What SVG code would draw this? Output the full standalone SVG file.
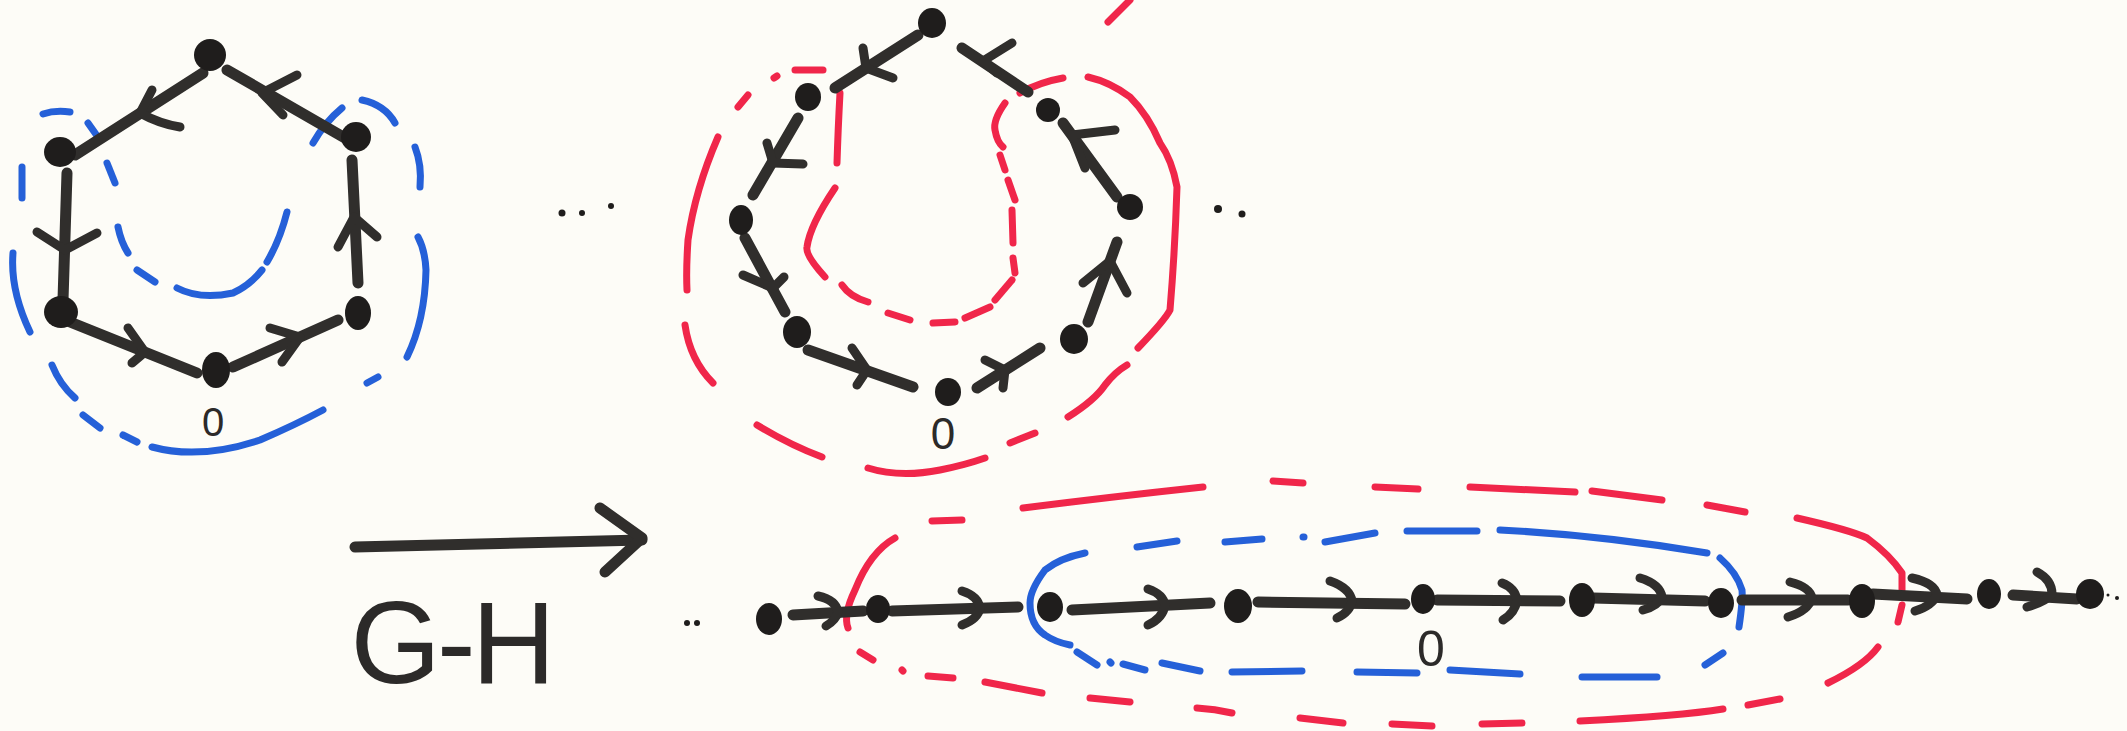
<svg xmlns="http://www.w3.org/2000/svg" width="2127" height="731" viewBox="0 0 2127 731">
<style>
.ink{stroke:#302e2c;stroke-width:11;stroke-linecap:round;stroke-linejoin:round;fill:none}
.hd{stroke:#302e2c;stroke-width:9;stroke-linecap:round;stroke-linejoin:round;fill:none}
.nd{fill:#1f1d1c}
.bl{stroke:#2560d8;stroke-width:7;stroke-linecap:round;stroke-linejoin:round;fill:none}
.rd{stroke:#f0264a;stroke-width:7;stroke-linecap:round;stroke-linejoin:round;fill:none}
.lbl{font-family:"Liberation Sans",Arial,sans-serif;fill:#2c2a29;text-anchor:middle}
.dt{fill:#1f1d1c}
</style>
<rect width="2127" height="731" fill="#fdfcf7"/>

<!-- sets (blue / red regions) -->
<g id="hex-blue-set">
<path class="bl" d="M43,114 Q55,110 70,112"/>
<path class="bl" d="M88,123 L100,140"/>
<path class="bl" d="M107,163 L115,183"/>
<path class="bl" d="M118,227 Q121,242 128,253"/>
<path class="bl" d="M137,270 L155,282"/>
<path class="bl" d="M177,288 Q200,300 233,293 Q250,285 262,270"/>
<path class="bl" d="M267,262 Q280,240 287,212"/>
<path class="bl" d="M22,167 L22,198"/>
<path class="bl" d="M13,253 Q10,290 30,332"/>
<path class="bl" d="M52,365 Q60,385 75,398"/>
<path class="bl" d="M83,415 L100,428"/>
<path class="bl" d="M123,435 L137,442"/>
<path class="bl" d="M152,447 Q200,460 260,440 Q295,425 323,410"/>
<path class="bl" d="M367,383 L378,377"/>
<path class="bl" d="M407,357 Q425,320 426,270 Q425,250 418,237"/>
<path class="bl" d="M415,147 Q422,165 420,187"/>
<path class="bl" d="M362,100 Q385,105 395,123"/>
<path class="bl" d="M313,143 Q325,122 342,108"/>
</g>

<g id="mid-red-set">
<path class="rd" d="M738,107 L748,95"/>
<path class="rd" d="M774,78 L777,76"/>
<path class="rd" d="M795,70 L823,70"/>
<path class="rd" d="M718,137 Q695,190 688,240 Q686,270 687,290"/>
<path class="rd" d="M685,325 Q690,360 713,383"/>
<path class="rd" d="M757,425 Q790,445 822,457"/>
<path class="rd" d="M868,468 Q900,478 940,470 Q965,465 985,458"/>
<path class="rd" d="M1010,443 L1035,433"/>
<path class="rd" d="M1068,417 Q1095,400 1105,385 Q1115,372 1127,365"/>
<path class="rd" d="M1138,348 Q1165,320 1170,310 Q1175,250 1177,187 Q1172,160 1160,143 Q1148,115 1130,97 Q1110,82 1088,77"/>
<path class="rd" d="M1063,78 Q1040,82 1020,93"/>
<path class="rd" d="M1005,103 Q993,120 995,130 Q997,142 1003,147"/>
<path class="rd" d="M1000,155 L1005,170"/>
<path class="rd" d="M1008,180 L1015,200"/>
<path class="rd" d="M1012,210 L1013,243"/>
<path class="rd" d="M1013,258 L1015,273"/>
<path class="rd" d="M1012,280 L995,300"/>
<path class="rd" d="M990,307 L965,318"/>
<path class="rd" d="M955,322 L933,323"/>
<path class="rd" d="M910,320 L888,313"/>
<path class="rd" d="M868,302 Q850,297 842,285"/>
<path class="rd" d="M825,277 Q805,255 807,247 Q810,225 835,188"/>
<path class="rd" d="M837,163 Q838,130 840,93"/>
<path class="rd" d="M1108,22 L1130,0"/>
</g>

<g id="line-red-set">
<path class="rd" d="M895,538 Q870,552 855,590 Q843,615 848,628"/>
<path class="rd" d="M932,521 L962,520"/>
<path class="rd" d="M1023,508 Q1110,497 1203,487"/>
<path class="rd" d="M1273,481 L1303,483"/>
<path class="rd" d="M1375,487 L1418,489"/>
<path class="rd" d="M1470,487 L1575,492"/>
<path class="rd" d="M1592,491 L1662,500"/>
<path class="rd" d="M1707,505 L1745,512"/>
<path class="rd" d="M1797,518 Q1850,530 1867,538 Q1890,555 1902,573 L1902,590"/>
<path class="rd" d="M1902,605 L1898,622"/>
<path class="rd" d="M1878,647 Q1865,665 1828,683"/>
<path class="rd" d="M1780,699 L1748,705"/>
<path class="rd" d="M1723,709 Q1680,716 1580,721"/>
<path class="rd" d="M1522,723 L1482,724"/>
<path class="rd" d="M1432,726 L1392,724"/>
<path class="rd" d="M1343,723 L1300,718"/>
<path class="rd" d="M1232,713 Q1215,709 1197,708"/>
<path class="rd" d="M1130,702 L1090,698"/>
<path class="rd" d="M1042,693 L985,682"/>
<path class="rd" d="M953,678 L928,676"/>
<path class="rd" d="M902,670 L903,671"/>
<path class="rd" d="M873,660 L860,652"/>
</g>

<g id="line-blue-set">
<path class="bl" d="M1085,553 Q1060,558 1045,570 Q1030,590 1030,603 Q1030,625 1045,635 Q1055,642 1070,645"/>
<path class="bl" d="M1077,652 L1097,665"/>
<path class="bl" d="M1110,662 L1111,663"/>
<path class="bl" d="M1123,664 L1145,670"/>
<path class="bl" d="M1162,663 L1200,671"/>
<path class="bl" d="M1232,672 L1302,671"/>
<path class="bl" d="M1357,672 L1417,673"/>
<path class="bl" d="M1450,670 L1520,674"/>
<path class="bl" d="M1582,677 L1657,677"/>
<path class="bl" d="M1705,665 L1723,653"/>
<path class="bl" d="M1739,627 Q1743,600 1742,590 Q1737,573 1720,558"/>
<path class="bl" d="M1500,530 Q1600,535 1707,553"/>
<path class="bl" d="M1407,531 L1477,531"/>
<path class="bl" d="M1325,542 L1375,533"/>
<path class="bl" d="M1303,537 L1304,537"/>
<path class="bl" d="M1225,542 L1262,539"/>
<path class="bl" d="M1137,547 L1177,541"/>
</g>

<!-- connectors -->
<g id="connectors">
<!-- hexagon -->
<path class="ink" d="M203,73 L75,155"/><path class="hd" d="M152,90 L140,113 Q160,124 180,127"/>
<path class="ink" d="M345,138 L227,70"/><path class="hd" d="M297,75 L262,93 L283,115"/>
<path class="ink" d="M67,173 L63,300"/><path class="hd" d="M37,232 L65,250 L97,233"/>
<path class="ink" d="M70,322 L197,373"/><path class="hd" d="M128,328 L145,352 L132,363"/>
<path class="ink" d="M233,367 L338,320"/><path class="hd" d="M270,328 L300,337 L282,362"/>
<path class="ink" d="M358,283 L352,160"/><path class="hd" d="M338,247 L354,217 L377,237"/>
<!-- middle cycle -->
<path class="ink" d="M918,35 L835,88"/><path class="hd" d="M863,48 L866,68 L893,78"/>
<path class="ink" d="M798,118 L753,195"/><path class="hd" d="M767,143 L773,163 L803,164"/>
<path class="ink" d="M745,238 L785,312"/><path class="hd" d="M743,275 L773,288 L784,277"/>
<path class="ink" d="M808,350 L913,387"/><path class="hd" d="M852,348 L867,370 L857,385"/>
<path class="ink" d="M977,388 L1040,348"/><path class="hd" d="M985,360 L1005,370 L1003,388"/>
<path class="ink" d="M1088,322 L1117,242"/><path class="hd" d="M1083,283 L1110,261 L1127,293"/>
<path class="ink" d="M1117,197 L1063,123"/><path class="hd" d="M1115,130 L1072,135 L1085,168"/>
<path class="ink" d="M1028,92 L962,48"/><path class="hd" d="M1012,43 L983,61 L997,73"/>
<!-- G-H arrow -->
<path class="ink" d="M355,547 L642,540"/><path class="ink" d="M600,508 L642,538 L605,572"/>
<!-- line -->
<path class="ink" d="M793,615 L863,611"/><path class="hd" d="M818,596 Q836,600 838,612 Q836,620 826,626"/>
<path class="ink" d="M892,611 L1018,607"/><path class="hd" d="M962,591 Q978,596 980,608 Q978,619 962,625"/>
<path class="ink" d="M1072,610 L1210,603"/><path class="hd" d="M1148,589 Q1163,594 1165,605 Q1163,618 1148,625"/>
<path class="ink" d="M1258,602 L1405,604"/><path class="hd" d="M1330,581 Q1350,588 1352,601 Q1350,612 1337,618"/>
<path class="ink" d="M1437,600 L1560,601"/><path class="hd" d="M1502,583 Q1515,588 1517,600 Q1515,613 1503,620"/>
<path class="ink" d="M1593,598 L1705,601"/><path class="hd" d="M1640,578 Q1660,584 1662,597 Q1658,606 1643,610"/>
<path class="ink" d="M1742,600 L1848,600"/><path class="hd" d="M1790,582 Q1810,587 1812,598 Q1808,611 1788,617"/>
<path class="ink" d="M1873,594 L1967,599"/><path class="hd" d="M1912,578 Q1935,583 1937,595 Q1932,606 1915,611"/>
<path class="ink" d="M2013,595 L2077,599"/><path class="hd" d="M2037,572 Q2052,580 2052,594 Q2045,602 2027,607"/>
</g>

<!-- hexagon nodes -->
<g id="hex-top"><ellipse class="nd" cx="210" cy="55" rx="16" ry="16"/></g>
<g id="hex-ul"><ellipse class="nd" cx="60" cy="152" rx="16" ry="15"/></g>
<g id="hex-ur"><ellipse class="nd" cx="356" cy="137" rx="15" ry="15"/></g>
<g id="hex-ll"><ellipse class="nd" cx="61" cy="312" rx="17" ry="16"/></g>
<g id="hex-lr"><ellipse class="nd" cx="358" cy="313" rx="13" ry="17"/></g>
<g id="hex-bot"><ellipse class="nd" cx="216" cy="370" rx="14" ry="18"/><text class="lbl" x="213" y="436" font-size="40">0</text></g>

<!-- middle cycle nodes -->
<g id="mid-top"><ellipse class="nd" cx="932" cy="23" rx="14" ry="15"/></g>
<g id="mid-a"><ellipse class="nd" cx="808" cy="97" rx="13" ry="14"/></g>
<g id="mid-b"><ellipse class="nd" cx="741" cy="220" rx="12" ry="15"/></g>
<g id="mid-c"><ellipse class="nd" cx="797" cy="332" rx="14" ry="16"/></g>
<g id="mid-bot"><ellipse class="nd" cx="948" cy="392" rx="13" ry="14"/><text class="lbl" x="943" y="449" font-size="44">0</text></g>
<g id="mid-d"><ellipse class="nd" cx="1074" cy="339" rx="14" ry="15"/></g>
<g id="mid-e"><ellipse class="nd" cx="1130" cy="207" rx="13" ry="13"/></g>
<g id="mid-f"><ellipse class="nd" cx="1048" cy="110" rx="12" ry="12"/></g>

<!-- line nodes -->
<g id="ln-1"><ellipse class="nd" cx="769" cy="619" rx="13" ry="16"/></g>
<g id="ln-2"><ellipse class="nd" cx="878" cy="609" rx="12" ry="14"/></g>
<g id="ln-3"><ellipse class="nd" cx="1050" cy="607" rx="13" ry="15"/></g>
<g id="ln-4"><ellipse class="nd" cx="1238" cy="606" rx="14" ry="17"/></g>
<g id="ln-5"><ellipse class="nd" cx="1423" cy="599" rx="12" ry="15"/><text class="lbl" x="1431" y="666" font-size="50">0</text></g>
<g id="ln-6"><ellipse class="nd" cx="1582" cy="600" rx="13" ry="17"/></g>
<g id="ln-7"><ellipse class="nd" cx="1721" cy="603" rx="13" ry="15"/></g>
<g id="ln-8"><ellipse class="nd" cx="1862" cy="601" rx="13" ry="17"/></g>
<g id="ln-9"><ellipse class="nd" cx="1989" cy="594" rx="12" ry="15"/></g>
<g id="ln-10"><ellipse class="nd" cx="2090" cy="594" rx="14" ry="15"/></g>

<!-- ellipsis dots and label -->
<g id="dots">
<circle class="dt" cx="562" cy="213" r="3.5"/><circle class="dt" cx="582" cy="213" r="3"/><circle class="dt" cx="611" cy="206" r="3"/>
<circle class="dt" cx="1218" cy="209" r="4"/><circle class="dt" cx="1242" cy="214" r="3.5"/>
<circle class="dt" cx="687" cy="623" r="3"/><circle class="dt" cx="697" cy="623" r="3"/>
<circle class="dt" cx="2108" cy="595" r="1.5"/><circle class="dt" cx="2117" cy="598" r="2"/>
</g>
<g id="gh-label"><text class="lbl" x="453" y="683" font-size="116" textLength="205" lengthAdjust="spacing">G-H</text></g>
</svg>
